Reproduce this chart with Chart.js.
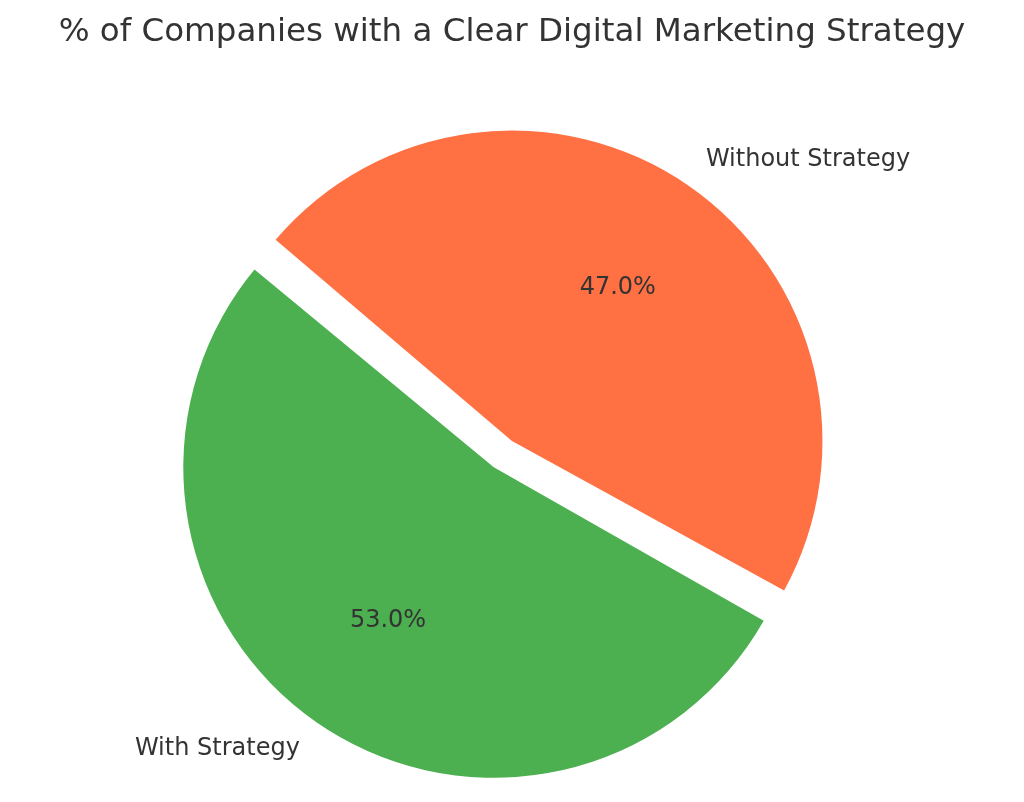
<!doctype html>
<html>
  <head>
    <meta charset="UTF-8">
    <title>Digital Marketing Strategy</title>
    <script src="https://cdn.jsdelivr.net/npm/chart.js@4.4.1/dist/chart.umd.min.js"></script>
    <style>
      body {
        margin: 0;
        background: #fff;
      }
      #wrap {
        width: 1024px;
        height: 802px;
      }
    </style>
  </head>
  <body>
    <div id="wrap">
      <canvas id="pieChart" width="1024" height="802"></canvas>
    </div>
    <script>
      var chartTitle = '% of Companies with a Clear Digital Marketing Strategy'
      var labels = ['With Strategy', 'Without Strategy']
      var shares = [53, 47]
      var colors = ['#4caf50', '#ff7043']

      var textColor = '#333333'
      var fontName = '"DejaVu Sans", sans-serif'
      // chart.js moves a slice by offset/4 and grows it by offset/4*(1-sin(min(pi,angle)))
      // both slices get an offset so they end up the same size with a ~32px gap
      var sliceOffset = [57.4, 70.6]

      function shiftOf(off) {
        return off / 4
      }
      function growOf(arc, off) {
        var circ = arc.endAngle - arc.startAngle
        return off / 4 * (1 - Math.sin(Math.min(Math.PI, circ)))
      }

      // title + labels outside at 1.1r, percentages inside at 0.6r (like matplotlib)
      var pieLabels = {
        id: 'pieLabels',
        afterDatasetsDraw: function(chart) {
          var ctx = chart.ctx
          var arcs = chart.getDatasetMeta(0).data
          var total = shares.reduce(function(a, b) { return a + b }, 0)
          ctx.save()
          ctx.fillStyle = textColor
          ctx.textAlign = 'center'
          ctx.textBaseline = 'alphabetic'
          ctx.font = '32.5px ' + fontName
          ctx.fillText(chartTitle, 512, 40.5)

          ctx.textBaseline = 'middle'
          ctx.font = '24px ' + fontName
          for (var i = 0; i < arcs.length; i++) {
            var arc = arcs[i]
            var mid = (arc.startAngle + arc.endAngle) / 2
            var s = shiftOf(sliceOffset[i])
            var r = arc.outerRadius + growOf(arc, sliceOffset[i])
            var cx = arc.x + Math.cos(mid) * s
            var cy = arc.y + Math.sin(mid) * s
            var lx = cx + Math.cos(mid) * r * 1.1
            var ly = cy + Math.sin(mid) * r * 1.1
            ctx.textAlign = Math.cos(mid) >= 0 ? 'left' : 'right'
            ctx.fillText(labels[i], lx, ly)
            var px = cx + Math.cos(mid) * r * 0.6
            var py = cy + Math.sin(mid) * r * 0.6
            ctx.textAlign = 'center'
            ctx.fillText((shares[i] / total * 100).toFixed(1) + '%', px, py)
          }
          ctx.restore()
        }
      }

      var pieCtx = document.getElementById('pieChart').getContext('2d')
      var myPieChart = new Chart(pieCtx, {
        type: 'pie',
        data: {
          labels: labels,
          datasets: [{
            data: shares,
            backgroundColor: colors,
            borderWidth: 0,
            offset: sliceOffset,
            hoverOffset: 0
          }]
        },
        options: {
          responsive: false,
          animation: false,
          rotation: 119.2,
          layout: {
            padding: { top: 124.1, bottom: 15, left: 0, right: 20.1 }
          },
          plugins: {
            legend: { display: false },
            tooltip: { enabled: false },
            title: { display: false }
          }
        },
        plugins: [pieLabels]
      })
    </script>
  </body>
</html>
